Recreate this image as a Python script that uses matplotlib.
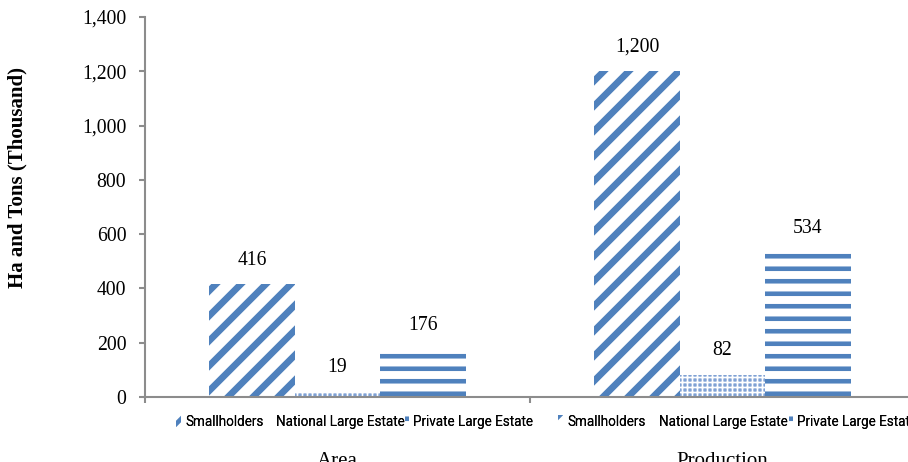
import numpy as np
import matplotlib
matplotlib.use("Agg")
from matplotlib import pyplot as plt

groups = ['Area', 'Production']
series = ['Smallholders', 'National Large Estate', 'Private Large Estate']
smallholders = [416, 1200]
national = [19, 82]
private = [176, 534]
yticks = [0, 200, 400, 600, 800, 1000, 1200, 1400]

blue = '#4F81BD'
W, H, DPI = 908, 462, 150
serif = ['Liberation Serif', 'DejaVu Serif']
narrow = ['Roboto', 'DejaVu Sans']

fig = plt.figure(figsize=(W / DPI, H / DPI), dpi=DPI)
# axes in pixel terms: left 145, bottom y=397, top y=17, one group = 385 px
ax = fig.add_axes([145 / W, (H - 397) / H, 770 / W, 380 / H])

x = np.arange(len(groups))
bw = 0.223
off = 0.222

# hatch linewidth is taken per bar when it is made
plt.rcParams['hatch.linewidth'] = 3.2
b1 = ax.bar(x - off, smallholders, bw, facecolor='white', edgecolor=blue,
            linewidth=0, hatch='//', label=series[0])
plt.rcParams['hatch.linewidth'] = 0.8
b2 = ax.bar(x, national, bw, facecolor='#7FA1D4', edgecolor='white',
            linewidth=0, hatch='+++++', label=series[1])
plt.rcParams['hatch.linewidth'] = 2.2
b3 = ax.bar(x + off, private, bw, facecolor='white', edgecolor=blue,
            linewidth=0, hatch='--', label=series[2])

for bars, vals in [(b1, smallholders), (b2, national), (b3, private)]:
    for r, v in zip(bars, vals):
        ax.annotate(f'{v:,}', (r.get_x() + r.get_width() / 2, v),
                    xytext=(0, 11.5), textcoords='offset points',
                    ha='center', va='center', fontsize=9.5, family=serif)

ax.set_xlim(-0.5, 1.5)
ax.set_ylim(0, 1400)
ax.set_yticks(yticks)
ax.set_yticklabels([f'{t:,}' for t in yticks], family=serif, fontsize=9.5)
ax.set_xticks([-0.5, 0.5, 1.5])
ax.set_xticklabels([])
for s in ['top', 'right']:
    ax.spines[s].set_visible(False)
for s in ['left', 'bottom']:
    ax.spines[s].set_color('#8C8C8C')
    ax.spines[s].set_linewidth(1.0)
ax.tick_params(axis='both', color='#8C8C8C', width=1.0, length=3, direction='out')
ax.tick_params(axis='y', pad=6)

fig.text(17 / W, 1 - 177 / H, 'Ha and Tons (Thousand)', rotation=90,
         ha='center', va='center', fontsize=10, fontweight='bold', family=serif)

# legend entries under each group, like the chart's multi-level axis
entry_x = [[220, 336, 469], [602, 719, 853]]
for row in entry_x:
    for ex, b in zip(row, [b1, b2, b3]):
        leg = fig.legend(handles=[b], loc='center',
                         bbox_to_anchor=(ex / W, 1 - 422 / H), frameon=False,
                         handlelength=0.35, handleheight=1.0, handletextpad=0.3,
                         borderaxespad=0, borderpad=0,
                         prop={'family': narrow, 'size': 6.5})
        fig.add_artist(leg)

for cx, name in zip([337, 722], groups):
    fig.text(cx / W, -4 / H, name, ha='center', va='baseline',
             fontsize=10, family=serif)

fig.savefig('out.png', dpi=DPI)
